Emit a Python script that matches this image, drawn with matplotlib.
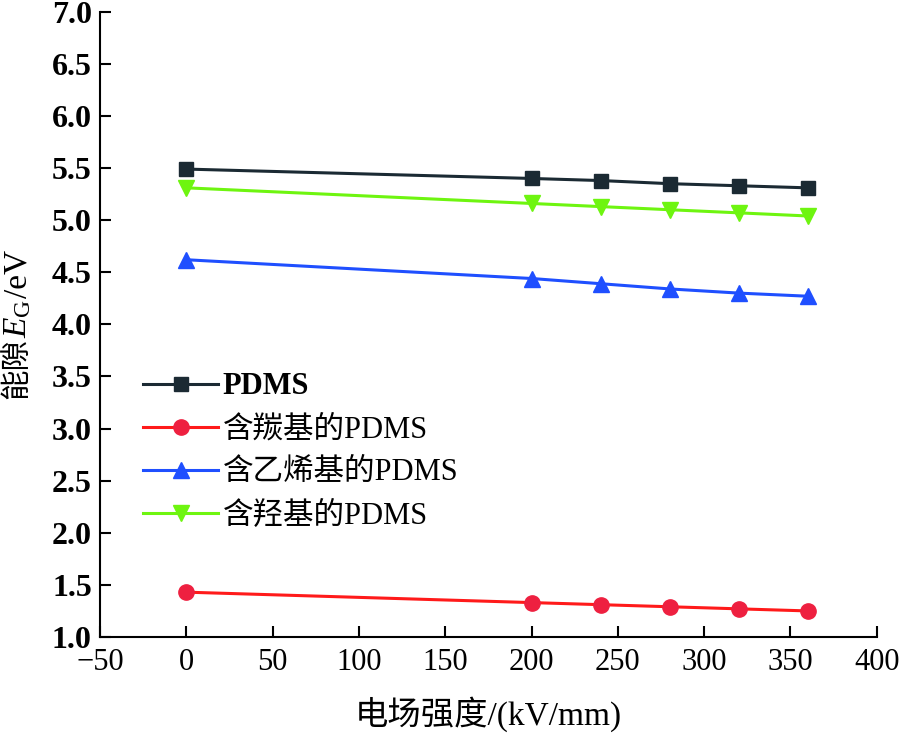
import matplotlib
matplotlib.use('Agg')
import matplotlib.pyplot as plt

plt.rcParams['font.family'] = ['Liberation Serif', 'Noto Sans CJK SC']
plt.rcParams['mathtext.fontset'] = 'custom'
plt.rcParams['mathtext.rm'] = 'Liberation Serif'
plt.rcParams['mathtext.it'] = 'Liberation Serif:italic'

# data
field = [0, 200, 240, 280, 320, 360]
pdms = [5.49, 5.40, 5.38, 5.35, 5.33, 5.31]
carbonyl = [1.43, 1.33, 1.31, 1.29, 1.27, 1.25]
vinyl = [4.62, 4.44, 4.39, 4.34, 4.30, 4.27]
hydroxyl = [5.31, 5.16, 5.13, 5.10, 5.07, 5.04]
labels = ['PDMS', '含羰基的PDMS', '含乙烯基的PDMS', '含羟基的PDMS']
yticks = [1.0 + 0.5 * i for i in range(13)]

fig = plt.figure(figsize=(9.02, 7.33), dpi=100)
ax = fig.add_axes([0.111, 0.131, 0.861, 0.853])

ax.plot(field, pdms, '-s', color='#1b2a33', lw=2.2, ms=9.5, label=labels[0])
ax.plot(field, carbonyl, '-o', color='#ff1a1a', mfc='#ee2040', mec='#ee2040', lw=2.2, ms=11, label=labels[1])
ax.plot(field, vinyl, '-^', color='#1f4fff', lw=2.2, ms=12, label=labels[2])
ax.plot(field, hydroxyl, '-v', color='#6ef510', lw=2.2, ms=12, label=labels[3])

ax.set_xlim(-50, 400)
ax.set_ylim(1.0, 7.0)
ax.set_xticks(range(-50, 401, 50))
ax.set_yticks(yticks)
ax.set_yticklabels(['%.1f' % v for v in yticks], fontweight='bold')

for s in ['top', 'right']:
    ax.spines[s].set_visible(False)
for s in ['left', 'bottom']:
    ax.spines[s].set_linewidth(1.5)
ax.tick_params(direction='in', length=8, width=1.5, labelsize=22)
ax.tick_params(axis='y', pad=6, labelsize=23)
ax.tick_params(axis='x', pad=8)

ax.set_xlabel('电场强度/(kV/mm)', fontsize=24, labelpad=14)

# y label in pieces (CJK + math + latin)
t_mid = fig.text(18 / 902, 1 - 318 / 733, '$E_\\mathrm{G}$', rotation=90,
                 ha='center', va='center', fontsize=24)
ax.annotate('能隙', xy=(0.5, 0), xycoords=t_mid, rotation=90,
            ha='center', va='top', fontsize=22)
ax.annotate('/eV', xy=(0.5, 1), xycoords=t_mid, rotation=90,
            ha='center', va='bottom', fontsize=24)

leg = ax.legend(loc='upper left', bbox_to_anchor=(0.04, 0.443), frameon=False,
                fontsize=22, handlelength=2.45, handletextpad=0.15, labelspacing=0.46,
                borderaxespad=0)
leg.get_texts()[0].set_fontweight('bold')

fig.savefig('out.png', dpi=100)
